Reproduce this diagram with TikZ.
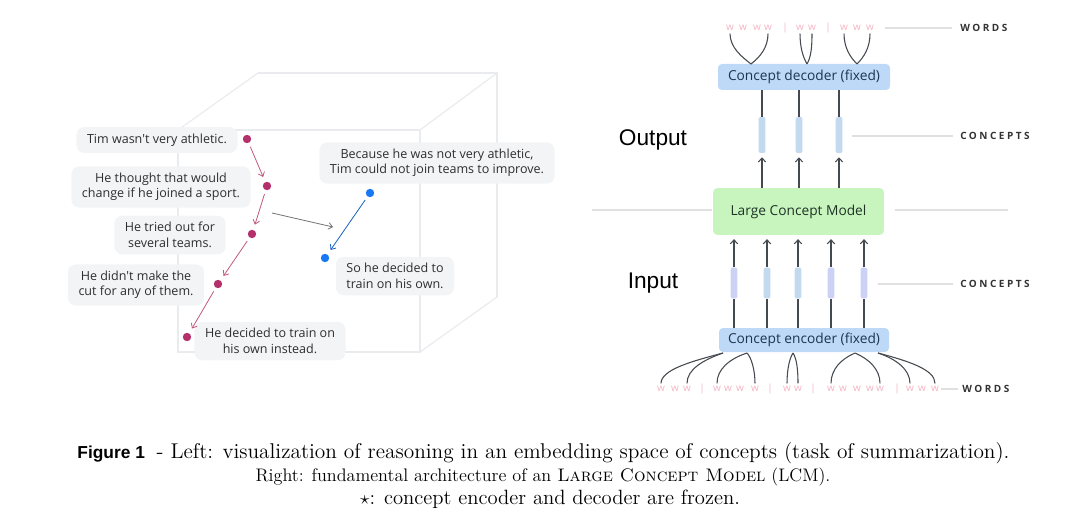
\documentclass[tikz,border=0pt]{standalone}
\usepackage{fontspec}
\usetikzlibrary{arrows.meta}
\newfontfamily\labf{Open Sans}
\newfontfamily\headf{Liberation Sans}
\newfontfamily\capsf[LetterSpace=25]{Open Sans}
\newfontfamily\lmtw{lmroman12-regular.otf}
\definecolor{mag}{HTML}{B3306A}
\definecolor{magl}{HTML}{C2577F}
\definecolor{bdot}{HTML}{1877F2}
\definecolor{lblfill}{HTML}{F3F4F6}
\definecolor{cubec}{HTML}{EAEBEE}
\definecolor{encfill}{HTML}{BED8F7}
\definecolor{enctext}{HTML}{1C3550}
\definecolor{lcmfill}{HTML}{C8F4BE}
\definecolor{lcmtext}{HTML}{1E3326}
\definecolor{barA}{HTML}{C3D9EF}
\definecolor{barB}{HTML}{CBD2F6}
\definecolor{wpink}{HTML}{F4B3C3}
\definecolor{lineg}{HTML}{444A50}
\begin{document}
\begin{tikzpicture}[x=0.75pt,y=-0.75pt,
  cube/.style={draw=cubec, line width=0.9pt},
  lbl/.style={fill=lblfill, rounded corners=6pt, font=\labf\fontsize{9.4}{11.6}\selectfont, text=black!82, align=center, inner xsep=8pt, inner ysep=5pt},
  mdot/.style={circle, fill=mag, inner sep=0pt, minimum size=6.3pt},
  bdotst/.style={circle, fill=bdot, inner sep=0pt, minimum size=6.3pt},
  marr/.style={draw=magl, line width=0.6pt, -{Straight Barb[length=3pt,width=5pt]}, shorten >=4pt, shorten <=3pt},
  barr/.style={draw=bdot!80!black, line width=0.6pt, -{Straight Barb[length=3pt,width=5pt]}, shorten >=4pt, shorten <=3pt},
  garr/.style={draw=black!55, line width=0.6pt, -{Straight Barb[length=3pt,width=5pt]}},
  modbox/.style={rounded corners=3pt, font=\labf\fontsize{10.3}{12}\selectfont, inner sep=0pt},
  cbar/.style={rounded corners=1pt, inner sep=0pt, minimum width=5pt},
  conn/.style={draw=lineg, line width=0.8pt},
  carr/.style={draw=lineg, line width=0.8pt, -{Straight Barb[length=3pt,width=5.5pt]}},
  wrd/.style={font=\labf\fontsize{7.5}{7.5}\selectfont, text=wpink, inner sep=0pt},
  tag/.style={font=\capsf\bfseries\fontsize{7.5}{8}\selectfont, text=black!80, anchor=west, inner sep=0pt},
  glin/.style={draw=black!12, line width=0.8pt},
  hd/.style={font=\headf\fontsize{17}{19}\selectfont, inner sep=0pt},
  captx/.style={font=\fontsize{13.6}{17.3}\selectfont, inner sep=0pt, anchor=base}
]
\useasboundingbox (0,0) rectangle (1080,527);

% ---------------- left: cube ----------------
\draw[cube] (178,130) -- (420,130) -- (420,352) -- (178,352) -- cycle;
\draw[cube] (258,73) -- (497,73) -- (497,297);
\draw[cube] (178,130) -- (258,73);
\draw[cube] (420,130) -- (497,73);
\draw[cube] (420,352) -- (497,297);

% labels
\node[lbl] (l1) at (157,140) {Tim wasn't very athletic.};
\node[lbl] (l2) at (161,187) {He thought that would\\change if he joined a sport.};
\node[lbl] (l3) at (170,235) {He tried out for\\several teams.};
\node[lbl] (l4) at (136,285) {He didn't make the\\cut for any of them.};
\node[lbl] (l5) at (270,341) {He decided to train on\\his own instead.};
\node[lbl] (l6) at (437,163) {Because he was not very athletic,\\Tim could not join teams to improve.};
\node[lbl] (l7) at (395,276) {So he decided to\\train on his own.};

% points
\node[mdot] (p1) at (247,139) {};
\node[mdot] (p2) at (267,186) {};
\node[mdot] (p3) at (252,234) {};
\node[mdot] (p4) at (218,284) {};
\node[mdot] (p5) at (187,337) {};
\draw[marr] (p1) -- (p2);
\draw[marr] (p2) -- (p3);
\draw[marr] (p3) -- (p4);
\draw[marr] (p4) -- (p5);

\node[bdotst] (b1) at (370,193) {};
\node[bdotst] (b2) at (325,258) {};
\draw[barr] (b1) -- (b2);

\coordinate (ms) at (272,213);
\coordinate (me) at (333,227);
\draw[garr] (ms) -- (me);

% ---------------- right: architecture ----------------
\draw[glin] (592,210) coordinate (gl1) -- (712,210) coordinate (gl2);
\draw[glin] (895,210) coordinate (gl3) -- (1008,210) coordinate (gl4);

\node[modbox, fill=encfill, text=enctext, minimum width=129pt, minimum height=19.5pt] (dec) at (804,77) {Concept decoder (fixed)};
\node[modbox, fill=lcmfill, text=lcmtext, minimum width=128pt, minimum height=35pt] (lcm) at (798.5,211.5) {Large Concept Model};
\node[modbox, fill=encfill, text=enctext, minimum width=127.5pt, minimum height=18pt] (enc) at (804,340) {Concept encoder (fixed)};

\node[hd] (out) at (653,140) {Output};
\node[hd] (inp) at (653,283) {Input};

% output concept bars
\foreach \x [count=\i] in {762,799,839} {
  \node[cbar, fill=barA, minimum height=27pt] (ob\i) at (\x,135) {};
  \draw[conn] (dec.south -| ob\i) -- (ob\i.north);
  \draw[carr] (lcm.north -| ob\i) -- ([yshift=-3pt]ob\i.south);
}
% input concept bars
\foreach \x/\c [count=\i] in {734/barB,767/barA,798/barA,831/barB,864/barB} {
  \node[cbar, fill=\c, minimum height=23pt] (ib\i) at (\x,283) {};
  \draw[conn] (enc.north -| ib\i) -- (ib\i.south);
  \draw[carr] (ib\i.north) -- ([yshift=-3pt]lcm.south -| ib\i);
}

% tags
\draw[glin] (885,28) coordinate (tl1) -- (952,28) coordinate (tl2);
\node[tag] (tw) at (960,28) {WORDS};
\draw[glin] (852,136) coordinate (tl3) -- (953,136) coordinate (tl4);
\node[tag] (tc1) at (960,136) {CONCEPTS};
\draw[glin] (878,284) coordinate (tl5) -- (953,284) coordinate (tl6);
\node[tag] (tc2) at (960,284) {CONCEPTS};
\draw[glin] (941,389) coordinate (tl7) -- (958,389) coordinate (tl8);
\node[tag] (bw) at (962,389) {WORDS};

% top words
\foreach \x [count=\i] in {730,743,757,768,800,812,844,857,870}
  \node[wrd] (tw\i) at (\x,28) {w};
\foreach \x [count=\i] in {785,828}
  \node[wrd] (tb\i) at (\x,28) {|};
% bottom words
\foreach \x [count=\i] in {661,675,687,717,728,740,755,787,798,831,843,857,870,880,910,922,935}
  \node[wrd] (bw\i) at (\x,389) {w};
\foreach \x [count=\i] in {702,770,813,897}
  \node[wrd] (bb\i) at (\x,389) {|};

% decoder -> words curves
\coordinate (d1) at (751,64);
\coordinate (d2) at (807,64);
\coordinate (d3) at (857,64);
\draw[conn] ([yshift=-2pt]tw1.south) .. controls +(0,14) and +(-9,-7) .. (d1);
\draw[conn] ([yshift=-2pt]tw4.south) .. controls +(0,14) and +(9,-7) .. (d1);
\draw[conn] ([yshift=-2pt]tw5.south) .. controls +(0,14) and +(-4,-7) .. (d2);
\draw[conn] ([yshift=-2pt]tw6.south) .. controls +(0,14) and +(4,-7) .. (d2);
\draw[conn] ([yshift=-2pt]tw7.south) .. controls +(0,14) and +(-7,-7) .. (d3);
\draw[conn] ([yshift=-2pt]tw9.south) .. controls +(0,14) and +(7,-7) .. (d3);

% encoder -> words curves
\coordinate (e1) at (723,353);
\coordinate (e2) at (747,353);
\coordinate (e3) at (793,353);
\coordinate (e4) at (855,353);
\coordinate (e5) at (878,353);
\draw[conn] (e1) .. controls +(-30,8) and +(0,-14) .. ([yshift=2pt]bw1.north);
\draw[conn] (e1) .. controls +(-20,7) and +(0,-14) .. ([yshift=2pt]bw3.north);
\draw[conn] (e2) .. controls +(-18,6) and +(0,-14) .. ([yshift=2pt]bw4.north);
\draw[conn] (e2) .. controls +(4,4) and +(0,-14) .. ([yshift=2pt]bw7.north);
\draw[conn] (e3) .. controls +(-4,6) and +(0,-12) .. ([yshift=2pt]bw8.north);
\draw[conn] (e3) .. controls +(4,6) and +(0,-12) .. ([yshift=2pt]bw9.north);
\draw[conn] (e4) .. controls +(-14,6) and +(0,-14) .. ([yshift=2pt]bw10.north);
\draw[conn] (e4) .. controls +(14,6) and +(0,-14) .. ([yshift=2pt]bw14.north);
\draw[conn] (e5) .. controls +(18,6) and +(0,-14) .. ([yshift=2pt]bw15.north);
\draw[conn] (e5) .. controls +(30,8) and +(0,-14) .. ([yshift=2pt]bw17.north);

% ---------------- caption ----------------
\node[captx] (cap1) at (543.5,458)
 {{\headf\bfseries\fontsize{13}{15}\selectfont Figure 1}\ \ {\lmtw\fontsize{16}{18}\selectfont - Left: visualization of reasoning in an embedding space of concepts (task of summarization).}};
\node[captx] (cap2) at (543,481)
 {Right: fundamental architecture of an \textsc{Large Concept Model} (LCM).};
\node[captx] (cap3) at (550,504)
 {\lmtw\fontsize{15.5}{18}\selectfont$\star$: concept encoder and decoder are frozen.};
\end{tikzpicture}
\end{document}
